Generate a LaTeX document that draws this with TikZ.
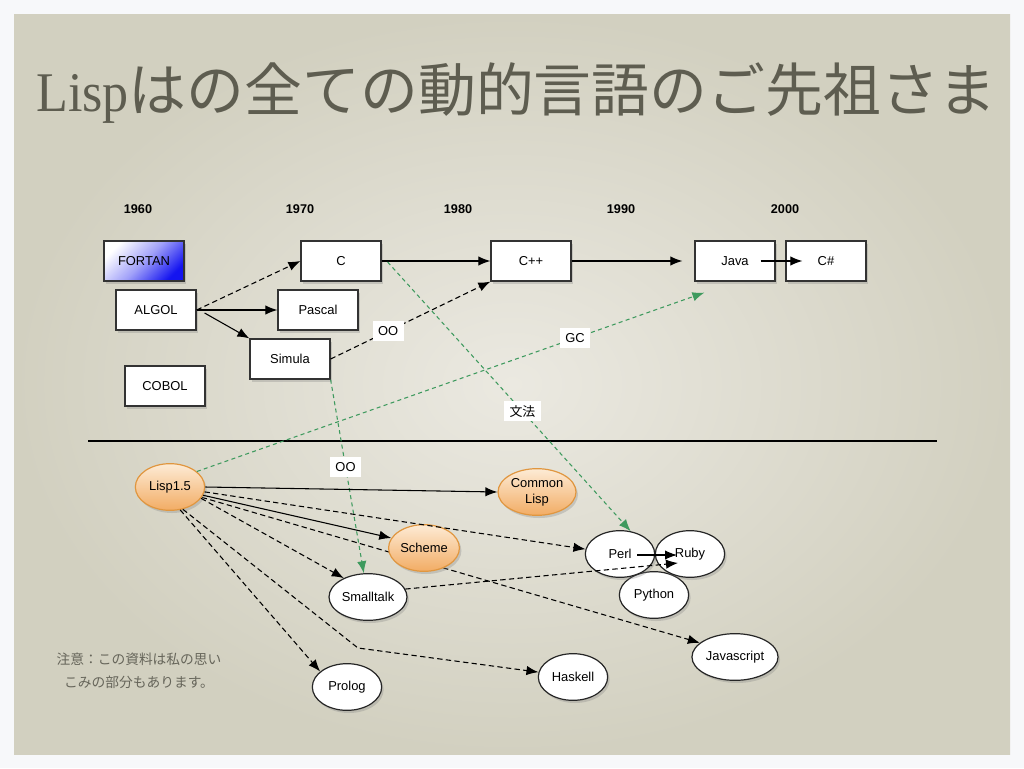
\documentclass[tikz,border=0pt]{standalone}
\usepackage{graphicx}
\usepackage{fontspec}
\setmainfont{Liberation Sans}
\newfontfamily\titleserif{Liberation Serif}
\newfontfamily\jp{Noto Sans CJK JP}
\usetikzlibrary{shapes.geometric,arrows.meta,shadows,calc}
\pgfdeclarelayer{back}
\pgfdeclarelayer{under}
\pgfsetlayers{back,under,main}
\definecolor{bgin}{HTML}{EBE9E1}
\definecolor{bgout}{HTML}{D2D0C0}
\definecolor{titlegray}{HTML}{5E5D50}
\definecolor{notegray}{HTML}{66655A}
\definecolor{edgegreen}{HTML}{3E9A5E}
\definecolor{orangeB}{HTML}{F2AC64}
\definecolor{orangeT}{HTML}{FDEBD5}
\definecolor{orangeD}{HTML}{E0963F}
\definecolor{fortblue}{HTML}{1414F0}
\definecolor{pagewhite}{HTML}{F7F8FA}
\tikzset{
  lbl/.style={font=\fontsize{9.7}{11}\selectfont},
  box/.style={lbl, draw=black!80, line width=0.9pt, fill=white, minimum width=60pt, minimum height=30pt,
    drop shadow={shadow xshift=1.5pt, shadow yshift=-2pt, opacity=0.3}},
  lang/.style={lbl, ellipse, draw=black!85, line width=0.9pt, fill=white, minimum width=52pt, minimum height=35pt,
    inner sep=1pt, align=center, drop shadow={shadow xshift=1.5pt, shadow yshift=-2pt, opacity=0.3}},
  lisplang/.style={lang, draw=orangeD, top color=orangeT, bottom color=orangeB},
  year/.style={font=\bfseries\fontsize{9.5}{11}\selectfont},
  arr/.style={-{Latex[length=9pt,width=7pt]}, line width=0.8pt},
  dsh/.style={arr, dash pattern=on 4pt off 2.5pt},
  grn/.style={arr, draw=edgegreen, dash pattern=on 3pt off 2.5pt},
  tag/.style={lbl, fill=white, inner xsep=4pt, inner ysep=2pt, minimum height=15pt}
}
\begin{document}
\begin{tikzpicture}[x=0.75pt,y=-0.75pt]
\useasboundingbox (0,0) rectangle (1024,768);
\begin{pgfonlayer}{back}
\fill[pagewhite] (0,0) rectangle (1024,768);
\shade[inner color=bgin, outer color=bgout] (14,14) rectangle (1010,754);
\end{pgfonlayer}

% title
\node[text=titlegray, inner sep=0pt, anchor=base west] (title) at (36,111)
  {\titleserif\fontsize{42}{42}\selectfont\scalebox{0.93}[1]{Lisp}\jp\fontsize{43.4}{44}\selectfont はの全ての動的言語のご先祖さま};

% years
\node[year] (y1960) at (138,209) {1960};
\node[year] (y1970) at (300,209) {1970};
\node[year] (y1980) at (458,209) {1980};
\node[year] (y1990) at (621,209) {1990};
\node[year] (y2000) at (785,209) {2000};

% boxes
\node[box, top color=white, bottom color=fortblue, middle color=fortblue!40, shading angle=45] (fortran) at (144,261) {FORTAN};
\node[box] (algol) at (156,310) {ALGOL};
\node[box] (cobol) at (165,386) {COBOL};
\node[box] (c) at (341,261) {C};
\node[box] (pascal) at (318,310) {Pascal};
\node[box] (simula) at (290,359) {Simula};
\node[box] (cpp) at (531,261) {C++};
\node[box] (java) at (735,261) {Java};
\node[box] (cs) at (826,261) {C\#};

% separator
\coordinate (sepL) at (88,441);
\coordinate (sepR) at (937,441);
\draw[line width=0.9pt] (sepL) -- (sepR);

% ellipses
\node[lisplang] (lisp) at (170,487) {Lisp1.5};
\node[lisplang] (clisp) at (537,492) {Common\\[1pt]Lisp};
\node[lisplang] (scheme) at (424,548) {Scheme};
\node[lang] (smalltalk) at (368,597) {Smalltalk};
\node[lang] (python) at (654,595) {Python};
\node[lang] (perl) at (620,554) {Perl};
\node[lang] (ruby) at (690,554) {Ruby};
\node[lang] (js) at (735,657) {Javascript};
\node[lang] (haskell) at (573,677) {Haskell};
\node[lang] (prolog) at (347,687) {Prolog};

% note
\node[text=notegray, align=center, font=\jp\fontsize{10.3}{17}\selectfont] (note) at (139,671)
  {注意：この資料は私の思い\\こみの部分もあります。};

% upper edges
\draw[dsh] (algol.east) -- (c.west);
\draw[arr] (algol.east) -- (pascal.west);
\draw[arr] ($(algol.east)+(8,3)$) -- (simula.north west);
\draw[arr] (c.east) -- (cpp.west);
\draw[arr, shorten >=9pt] (cpp.east) -- (java.west);
\draw[arr] ($(java.east)+(-15,0)$) -- ($(cs.west)+(17,0)$);
\draw[dsh] (simula.east) -- node[tag, pos=0.36] (tagoo1) {OO} (cpp.south west);

% green edges
\draw[grn] (simula.south east) -- node[tag, pos=0.45] (tagoo2) {OO} (smalltalk.100);
\draw[grn] (lisp.30) -- node[tag, pos=0.745] (taggc) {GC} ($(java.south west)+(10,11)$);
\draw[grn] ($(c.east)+(6,1)$) -- node[tag, pos=0.555] (tagsyn) {\jp 文法} (perl.65);

% lower edges
\draw[arr] (lisp.east) -- (clisp.west);
\draw[dsh] (lisp.-8) -- (perl.172);
\draw[arr] (lisp.-14) -- (scheme.163);
\draw[dsh] (lisp.-20) -- (smalltalk.142);
\begin{pgfonlayer}{under}
\draw[dsh] (lisp.-18) -- (js.158);
\end{pgfonlayer}
\coordinate (bendH) at (358,648);
\draw[dsh] (lisp.-60) -- (bendH) -- (haskell.172);
\draw[dsh] (lisp.-66) -- (prolog.150);
\draw[dsh] (smalltalk.12) -- ($(ruby.center)+(-12,9)$);
\draw[arr] ($(perl.center)+(17,1)$) -- ($(ruby.center)+(-13,1)$);
\end{tikzpicture}
\end{document}
